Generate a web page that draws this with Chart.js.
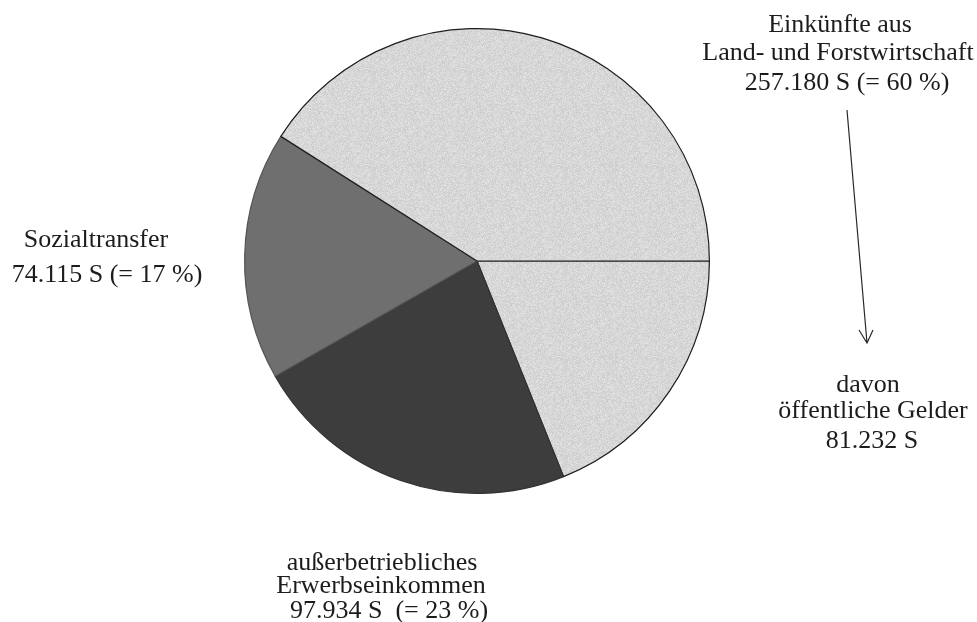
<!DOCTYPE html>
<html lang="de">
<head>
<meta charset="utf-8">
<title>Einkommensstruktur</title>
<script src="https://cdn.jsdelivr.net/npm/chart.js@4"></script>
<style>
    html, body { margin: 0; padding: 0; background: #fff; }
    #wrap { width: 977px; height: 622px; }
</style>
</head>
<body>
<div id="wrap"><canvas id="incomePieChart" width="977" height="622"></canvas></div>
<script>
"use strict";

/** DATA (Schilling) */

const landTotal = 257180;
const publicFunds = 81232;
const offFarmIncome = 97934;
const socialTransfer = 74115;

// Slices clockwise from 3 o'clock
const sliceLabels = [
    'davon öffentliche Gelder',
    'außerbetriebliches Erwerbseinkommen',
    'Sozialtransfer',
    'Einkünfte aus Land- und Forstwirtschaft'
];
const sliceValues = [publicFunds, offFarmIncome, socialTransfer, landTotal - publicFunds];

// Caption lines around the pie
const landLines = ['Einkünfte aus', 'Land- und Forstwirtschaft', '257.180 S (= 60 %)'];
const publicLines = ['davon', 'öffentliche Gelder', '81.232 S'];
const socialLines = ['Sozialtransfer', '74.115 S (= 17 %)'];
const offFarmLines = ['außerbetriebliches', 'Erwerbseinkommen', '97.934 S  (= 23 %)'];


/** GRAINY LIGHT GRAY FILL */

const makeGrain = (base, spread) => {
    const size = 96;
    const c = document.createElement('canvas');
    c.width = size;
    c.height = size;
    const g = c.getContext('2d');
    const img = g.createImageData(size, size);
    let seed = 12345;
    const next = () => {
        seed = (seed * 1103515245 + 12345) & 0x7fffffff;
        return seed / 0x7fffffff;
    };
    for (let i = 0; i < size * size; i++) {
        const v = Math.round(base + (next() - 0.5) * spread);
        img.data[i * 4] = v;
        img.data[i * 4 + 1] = v;
        img.data[i * 4 + 2] = v;
        img.data[i * 4 + 3] = 255;
    }
    g.putImageData(img, 0, 0);
    return g.createPattern(c, 'repeat');
};

const LIGHT = makeGrain(215, 24);


/** CAPTIONS + ARROW */

const FONT = '26px "Liberation Serif", "Times New Roman", serif';

const captionPlugin = {
    id: 'captions',
    afterDraw: chart => {
        const ctx = chart.ctx;
        ctx.save();
        ctx.font = FONT;
        ctx.fillStyle = '#1c1c1c';
        ctx.textAlign = 'center';
        ctx.textBaseline = 'alphabetic';

        const block = (lines, xs, ys) => lines.forEach((t, i) => ctx.fillText(t, xs[i], ys[i]));

        block(landLines, [840, 838, 847], [32, 60, 90]);
        block(publicLines, [868, 873, 872], [392, 418, 448]);
        block(socialLines, [96, 107], [247, 282]);
        block(offFarmLines, [382, 381, 389], [570, 593, 618]);

        // Arrow from the land caption down to "davon"
        ctx.strokeStyle = '#2a2a2a';
        ctx.lineWidth = 1.2;
        ctx.beginPath();
        ctx.moveTo(847, 110);
        ctx.lineTo(867, 343);
        ctx.moveTo(859, 330);
        ctx.lineTo(867, 343);
        ctx.lineTo(873, 330);
        ctx.stroke();
        ctx.restore();
    }
};


/** PIE CHART */

const incomePieChart = new Chart(document.getElementById('incomePieChart').getContext('2d'), {
    type: 'pie',
    data: {
        labels: sliceLabels,
        datasets: [{
            data: sliceValues,
            backgroundColor: [LIGHT, '#3d3d3d', '#6f6f6f', LIGHT],
            borderColor: ['#1e1e1e', '#333333', '#555555', '#1e1e1e'],
            borderWidth: 1.2,
            hoverOffset: 0,
            offset: 0
        }]
    },
    options: {
        responsive: false,
        animation: false,
        rotation: 90,
        layout: {
            padding: { top: 28, bottom: 128, left: 100, right: 123 }
        },
        plugins: {
            legend: { display: false },
            tooltip: { enabled: false }
        }
    },
    plugins: [captionPlugin]
});
</script>
</body>
</html>
